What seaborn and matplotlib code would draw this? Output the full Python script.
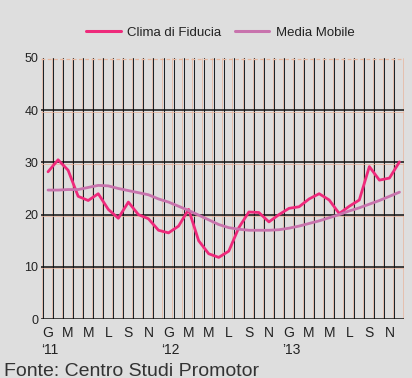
import numpy as np
import pandas as pd
import matplotlib
matplotlib.use("Agg")
import matplotlib.pyplot as plt
import matplotlib.transforms as mtransforms
import seaborn as sns

# Monthly series, January 2011 - December 2013
months = ["G", "F", "M", "A", "M", "G", "L", "A", "S", "O", "N", "D"] * 3
clima = [28.2, 30.5, 28.5, 23.5, 22.7, 24.0, 21.0, 19.3, 22.4, 20.0, 19.2, 17.0,
         16.5, 17.8, 21.0, 15.0, 12.5, 11.8, 13.0, 17.5, 20.5, 20.4, 18.6, 20.0,
         21.2, 21.5, 23.0, 24.0, 22.8, 20.2, 21.6, 22.8, 29.2, 26.6, 27.0, 30.1]
media = [24.7, 24.7, 24.8, 24.8, 25.2, 25.6, 25.5, 25.0, 24.6, 24.2, 23.8, 23.0,
         22.4, 21.6, 20.8, 19.9, 19.0, 18.1, 17.5, 17.2, 17.0, 17.0, 17.0, 17.1,
         17.4, 17.8, 18.3, 18.8, 19.4, 20.0, 20.7, 21.3, 22.0, 22.7, 23.5, 24.3]
years = ["\u201811", "\u201812", "\u201913"]
series_names = ["Clima di Fiducia", "Media Mobile"]
yticks = [0, 10, 20, 30, 40, 50]

idx = np.arange(len(clima))
df = pd.concat([
    pd.DataFrame({"mese": idx, "valore": clima, "serie": series_names[0]}),
    pd.DataFrame({"mese": idx, "valore": media, "serie": series_names[1]}),
])

sns.set_theme(style="white")
plt.rcParams["font.family"] = ["Liberation Sans", "DejaVu Sans"]

bg = "#dedede"
fig = plt.figure(figsize=(4.12, 3.78), dpi=100, facecolor=bg)
ax = fig.add_axes([41 / 412, 59 / 378, 363 / 412, 261 / 378], facecolor=bg)

# grid: dark month separators with a thin orange companion line
for k in range(len(idx) + 1):
    xb = k - 0.5
    ax.axvline(xb - 0.13, color="#e9b39b", lw=0.5, zorder=1)
    ax.axvline(xb, color="#1c2328", lw=0.75, zorder=1)
for yv in yticks[1:-1]:
    ax.axhline(yv - 0.3, color="#e9b39b", lw=0.5, zorder=1)
    ax.axhline(yv, color="#111111", lw=1.1, zorder=1)
ax.axhline(49.8, color="#e8b8a0", lw=0.9, ls=(0, (3, 2)), zorder=1)

palette = {series_names[0]: "#ee2a7b", series_names[1]: "#c873ad"}
sns.lineplot(data=df, x="mese", y="valore", hue="serie", palette=palette,
             linewidth=2.0, ax=ax, legend=False, zorder=3)

ax.axhline(0, color="#111111", lw=1.8, zorder=4)
ax.set_xlim(-0.7, 35.45)
ax.set_ylim(0, 50)
for s in ax.spines.values():
    s.set_visible(False)

ax.set_yticks(yticks)
ax.set_yticklabels([str(v) for v in yticks], fontsize=9, color="#222222")
ax.set_xticks(idx[::2])
ax.set_xticklabels(months[::2], fontsize=10, color="#222222")
ax.tick_params(axis="both", length=0, pad=2)
ax.tick_params(axis="x", pad=5)
ax.set_xlabel("")
ax.set_ylabel("")

trans = mtransforms.blended_transform_factory(ax.transData, fig.transFigure)
for i, yr in enumerate(years):
    ax.text(12 * i + 0.2, 1 - 350 / 378, yr, transform=trans, ha="center",
            va="center", fontsize=10, color="#222222")

# legend
handles = [plt.Line2D([], [], color=palette[n], lw=2.2) for n in series_names]
fig.legend(handles, series_names, loc="center", bbox_to_anchor=(0.535, 1 - 33 / 378),
           ncol=2, frameon=False, fontsize=9.5, handlelength=2.6,
           columnspacing=1.0, handletextpad=0.5, labelcolor="#222222")

fig.text(4 / 412, 1 - 371 / 378, "Fonte: Centro Studi Promotor", fontsize=14,
         color="#333333", ha="left", va="center")

fig.savefig("out.png", dpi=100, facecolor=bg)
